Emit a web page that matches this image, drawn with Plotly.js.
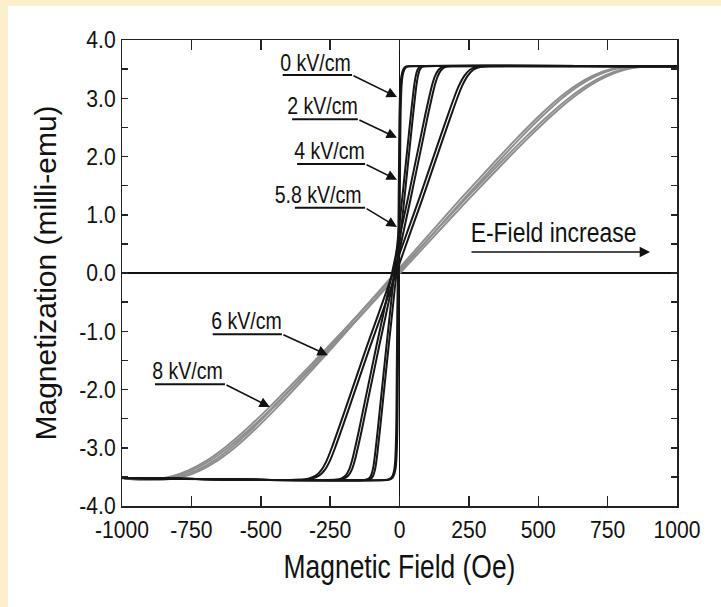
<!DOCTYPE html>
<html>
<head>
<meta charset="utf-8">
<script src="https://cdn.plot.ly/plotly-3.0.1.min.js"></script>
<style>
  html, body { margin: 0; padding: 0; background: #FCEFCB; width: 721px; height: 607px; overflow: hidden; }
  #chart { position: absolute; left: 8px; top: 6px; width: 713px; height: 601px; background: #fff; }
</style>
</head>
<body>
<div id="chart"></div>
<script>
// ---- data ----
const M_black = [-3.52, -3.55, -3.53, -3.48, -3.38, -3.22, -3.00, -2.72, -2.35, -1.80, -1.25, -0.72, 0, 0.72, 1.25, 1.80, 2.35, 2.72, 3.00, 3.22, 3.38, 3.49, 3.54, 3.55, 3.55];
const H_0kV_up  = [-1000, -40, -29, -21, -15, -11.5, -9.5, -8, -7, -6, -5, -4, -2, 0, 1, 2, 3, 4, 5.5, 7.5, 11, 17, 25, 36, 1000];
const H_0kV_dn  = [-1000, -44, -33, -25, -19, -15.5, -13.5, -12, -11, -10, -9, -8, -6, -4, -3, -2, -1, 0, 1.5, 3.5, 7, 13, 21, 32, 1000];
const H_2kV_up  = [-1000, -115, -103, -95, -88.5, -83, -77.5, -71, -63, -51, -39, -27, -11, 5, 17, 29, 41, 49, 55.5, 61, 66.5, 73, 81, 93, 1000];
const H_2kV_dn  = [-1000, -123, -111, -103, -96.5, -91, -85.5, -79, -71, -59, -47, -35, -19, -3, 9, 21, 33, 41, 47.5, 53, 58.5, 65, 73, 85, 1000];
const H_4kV_up  = [-1000, -225, -201, -185, -172, -161, -150, -137, -121, -97, -73, -49, -17, 15, 39, 63, 87, 103, 116, 127, 138, 151, 167, 191, 1000];
const H_4kV_dn  = [-1000, -235, -211, -195, -182, -171, -160, -147, -131, -107, -83, -59, -27, 5, 29, 53, 77, 93, 106, 117, 128, 141, 157, 181, 1000];
const H_58kV_up = [-1000, -356.5, -317, -290, -269, -250.5, -232, -211, -184, -144.5, -105, -65, -12, 41, 81, 120.5, 160, 187, 208, 226.5, 245, 266, 293, 332.5, 1000];
const H_58kV_dn = [-1000, -368.5, -329, -302, -281, -262.5, -244, -223, -196, -156.5, -117, -77, -24, 29, 69, 108.5, 148, 175, 196, 214.5, 233, 254, 281, 320.5, 1000];

const M_gray = [-3.52, -3.55, -3.54, -3.49, -3.39, -3.23, -3.00, -2.70, -2.32, -1.94, -1.25, -0.66, 0, 0.66, 1.25, 1.94, 2.32, 2.70, 3.00, 3.23, 3.39, 3.49, 3.54, 3.55, 3.55];
const H_6kV_up = [-1000, -894, -834, -774, -719, -659, -594, -524, -444, -369, -236, -126, -4, 118, 228, 361, 436, 516, 586, 651, 711, 766, 826, 886, 1000];
const H_6kV_dn = [-1000, -906, -846, -786, -731, -671, -606, -536, -456, -381, -248, -138, -16, 106, 216, 349, 424, 504, 574, 639, 699, 754, 814, 874, 1000];
const H_8kV_up = [-1000, -933, -870, -807, -749, -686, -618, -544, -460, -381, -242, -126, 2, 130, 246, 385, 464, 548, 622, 690, 753, 811, 874, 937, 1000];
const H_8kV_dn = [-1000, -945, -882, -819, -761, -698, -630, -556, -472, -393, -254, -138, -10, 118, 234, 373, 452, 536, 610, 678, 741, 799, 862, 925, 1000];

const fieldLabels = ['0 kV/cm', '2 kV/cm', '4 kV/cm', '5.8 kV/cm', '6 kV/cm', '8 kV/cm'];
const xTickVals = [-1000, -750, -500, -250, 0, 250, 500, 750, 1000];
const xTickText = ['-1000', '-750', '-500', '-250', '0', '250', '500', '750', '1000'];
const yTickVals = [-4, -3, -2, -1, 0, 1, 2, 3, 4];
const yTickText = ['-4.0', '-3.0', '-2.0', '-1.0', '0.0', '1.0', '2.0', '3.0', '4.0'];

// ---- traces ----
const BLACK = '#161616', GRAY = '#8e8e8e';
function tr(x, y, color, w) {
  return { x: x, y: y, type: 'scatter', mode: 'lines', showlegend: false, hoverinfo: 'skip',
           line: { color: color, width: w, shape: 'spline', smoothing: 0.6 } };
}
const data = [
  tr(H_8kV_up, M_gray, GRAY, 2), tr(H_8kV_dn, M_gray, GRAY, 2),
  tr(H_6kV_up, M_gray, GRAY, 2), tr(H_6kV_dn, M_gray, GRAY, 2),
  tr(H_58kV_up, M_black, BLACK, 2), tr(H_58kV_dn, M_black, BLACK, 2),
  tr(H_4kV_up, M_black, BLACK, 2), tr(H_4kV_dn, M_black, BLACK, 2),
  tr(H_2kV_up, M_black, BLACK, 2), tr(H_2kV_dn, M_black, BLACK, 2),
  tr(H_0kV_up, M_black, BLACK, 2), tr(H_0kV_dn, M_black, BLACK, 2)
];

// ---- annotation layout (positions in data units) ----
const FONT = '"Liberation Sans", Arial, Helvetica, sans-serif';
const labelPos = [
  { tx: -301, ty: 3.60, u0: -421, u1: -171, uy: 3.40, hx: -9,   hy: 3.02 },
  { tx: -279, ty: 2.87, u0: -387, u1: -150, uy: 2.64, hx: -9,   hy: 2.32 },
  { tx: -254, ty: 2.09, u0: -369, u1: -124, uy: 1.87, hx: -9,   hy: 1.60 },
  { tx: -295, ty: 1.34, u0: -377, u1: -124, uy: 1.12, hx: -9,   hy: 0.79 },
  { tx: -550, ty: -0.82, u0: -673, u1: -424, uy: -1.05, hx: -258, hy: -1.41 },
  { tx: -764, ty: -1.68, u0: -881, u1: -629, uy: -1.91, hx: -467, hy: -2.30 }
];
const annotations = [], shapes = [];
fieldLabels.forEach((t, i) => {
  const p = labelPos[i];
  annotations.push({ x: p.tx, y: p.ty, xref: 'x', yref: 'y', text: t, showarrow: false,
    font: { family: FONT, size: 23, color: '#111' }, xanchor: 'center', yanchor: 'middle' });
  annotations.push({ x: p.hx, y: p.hy, ax: p.u1, ay: p.uy, xref: 'x', yref: 'y', axref: 'x', ayref: 'y',
    text: '', showarrow: true, arrowhead: 2, arrowsize: 1.3, arrowwidth: 1.6, arrowcolor: '#111',
    standoff: 0, startstandoff: 0 });
  shapes.push({ type: 'line', xref: 'x', yref: 'y', x0: p.u0, x1: p.u1, y0: p.uy, y1: p.uy,
    line: { color: '#111', width: 2 } });
});
annotations.push({ x: 555, y: 0.69, xref: 'x', yref: 'y', text: 'E-Field increase', showarrow: false,
  font: { family: FONT, size: 27, color: '#111' }, xanchor: 'center', yanchor: 'middle' });
annotations.push({ x: 903, y: 0.36, ax: 254, ay: 0.36, xref: 'x', yref: 'y', axref: 'x', ayref: 'y',
  text: '', showarrow: true, arrowhead: 2, arrowsize: 1.3, arrowwidth: 1.6, arrowcolor: '#111',
  standoff: 0, startstandoff: 0 });

const layout = {
  width: 713, height: 601,
  margin: { l: 114, r: 44, t: 34, b: 101 },
  paper_bgcolor: '#ffffff', plot_bgcolor: '#ffffff',
  showlegend: false,
  font: { family: FONT, color: '#111' },
  xaxis: {
    range: [-1000, 1000], tickvals: xTickVals, ticktext: xTickText,
    ticks: 'inside', ticklen: 10, tickwidth: 1.5, tickcolor: '#222',
    showline: true, linecolor: '#222', linewidth: 1.5, mirror: 'ticks',
    showgrid: false, zeroline: true, zerolinecolor: '#111', zerolinewidth: 1.3,
    tickfont: { family: FONT, size: 24, color: '#111' }, ticklabelstandoff: 2,
    title: { text: 'Magnetic Field (Oe)', font: { family: FONT, size: 33, color: '#111' }, standoff: 12 }
  },
  yaxis: {
    range: [-4, 4], tickvals: yTickVals, ticktext: yTickText,
    ticks: 'inside', ticklen: 6, tickwidth: 1.5, tickcolor: '#222',
    minor: { dtick: 0.5, ticks: 'inside', ticklen: 6, tickwidth: 1.5, tickcolor: '#222', showgrid: false },
    showline: true, linecolor: '#222', linewidth: 1.5, mirror: 'ticks',
    showgrid: false, zeroline: true, zerolinecolor: '#111', zerolinewidth: 1.3,
    tickfont: { family: FONT, size: 24, color: '#111' },
    title: { text: 'Magnetization (milli-emu)', font: { family: FONT, size: 30, color: '#111' }, standoff: 9 }
  },
  annotations: annotations,
  shapes: shapes
};

// The reference uses a condensed face; narrow the horizontal texts in place.
function condense(selector, s, anchor) {
  document.querySelectorAll('#chart ' + selector).forEach(el => {
    const bb = el.getBBox();
    if (!bb.width) return;
    const cx = anchor === 'end' ? bb.x + bb.width : bb.x + bb.width / 2;
    const prev = el.getAttribute('transform') || '';
    el.setAttribute('transform', prev + ' translate(' + cx + ',0) scale(' + s + ',1) translate(' + (-cx) + ',0)');
  });
}

Plotly.newPlot('chart', data, layout, { staticPlot: true, displayModeBar: false }).then(() => {
  condense('.xtick text', 0.88, 'middle');
  condense('.ytick text', 0.88, 'end');
  condense('.g-xtitle text', 0.8, 'middle');
  condense('.annotation-text', 0.85, 'middle');
});
</script>
</body>
</html>
